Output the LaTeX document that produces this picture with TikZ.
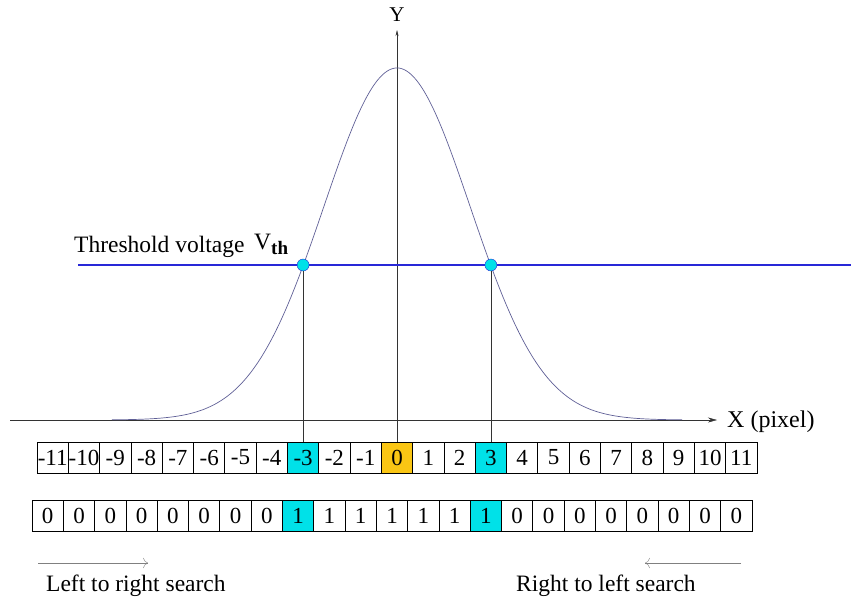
\documentclass[tikz,border=0pt]{standalone}
\usepackage{fontspec}
\setmainfont{Liberation Serif}
\usetikzlibrary{arrows.meta}
\definecolor{cellcyan}{RGB}{0,225,232}
\definecolor{cellgold}{RGB}{250,198,20}
\definecolor{vthblue}{RGB}{40,40,215}
\definecolor{curveblue}{RGB}{95,95,150}

\begin{document}
\begin{tikzpicture}[x=1pt,y=-1pt,
  cell/.style={draw,line width=0.8pt,minimum width=31.3pt,minimum height=31pt,inner sep=0pt,font=\fontsize{23}{23}\selectfont},
  lbl/.style={inner sep=0pt,font=\fontsize{23.5}{25}\selectfont},
  cross/.style={circle,draw=vthblue,fill=cellcyan,minimum size=12pt,inner sep=0pt}]
\useasboundingbox (0,0) rectangle (851,600);
% pixel rows
\foreach \i in {-11,...,11} {
  \ifnum\i=0 \def\cfill{cellgold}\else\ifnum\i=3 \def\cfill{cellcyan}\else\ifnum\i=-3 \def\cfill{cellcyan}\else\def\cfill{white}\fi\fi\fi
  \node[cell,fill=\cfill] (c\i) at ({397+31.3*\i},457.5) {\i};
}
\foreach \i in {-11,...,11} {
  \pgfmathtruncatemacro{\bit}{abs(\i)<=3 ? 1 : 0}
  \ifnum\i=3 \def\cfill{cellcyan}\else\ifnum\i=-3 \def\cfill{cellcyan}\else\def\cfill{white}\fi\fi
  \node[cell,fill=\cfill] (b\i) at ({392+31.3*\i},516) {\bit};
}
% axes
\coordinate (xl) at (10,420);
\coordinate (xr) at (717,420);
\coordinate (ytop) at (397,30);
\draw[gray!40!black,-{Stealth[length=9pt,width=5pt]}] (xl) -- (xr);
\node[lbl,anchor=west,font=\fontsize{24}{24}\selectfont] (xlab) at (727,422) {X (pixel)};
\draw[gray!40!black,-{Stealth[length=6pt,width=3pt]}] (c0.north) -- (ytop);
\node[lbl,font=\fontsize{21}{21}\selectfont] (ylab) at (397,15) {Y};
% gaussian
\draw[curveblue,line width=0.7pt] plot[domain=-3.9:3.9,samples=120,smooth] ({397+73.1*\x},{420-352*exp(-\x*\x/2)});
% threshold
\coordinate (tl) at (78,265);
\coordinate (tm) at (330,265);
\coordinate (tr) at (851,265);
\draw[vthblue,line width=1.1pt] (tl) -- (tr);
\draw[vthblue,line width=1.8pt] (tl) -- (tm);
\node[lbl,anchor=west] (thr) at (74,247) {Threshold voltage};
\node[lbl,anchor=west] (vth) at (254,244) {V\raisebox{-5pt}{\fontsize{19}{19}\selectfont\bfseries th}};
\node[cross] (pl) at (c-3 |- tl) {};
\node[cross] (pr) at (c3 |- tl) {};
\draw[gray!40!black] (pl.south) -- (c-3.north);
\draw[gray!40!black] (pr.south) -- (c3.north);
% search directions
\coordinate (la) at (38,563);
\coordinate (lb) at (148,563);
\coordinate (ra) at (741,563);
\coordinate (rb) at (645,563);
\draw[gray,-{To[length=5pt]}] (la) -- (lb);
\draw[gray,-{To[length=5pt]}] (ra) -- (rb);
\node[lbl,anchor=west] (lsearch) at (46,586) {Left to right search};
\node[lbl,anchor=west] (rsearch) at (516,586) {Right to left search};
\end{tikzpicture}
\end{document}
